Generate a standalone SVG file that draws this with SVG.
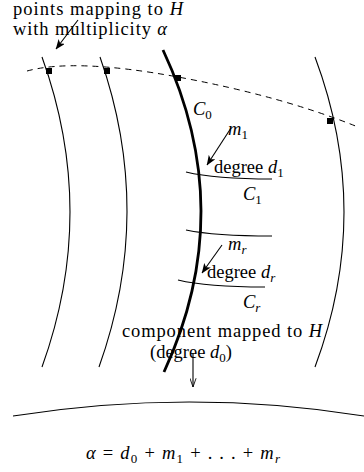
<svg xmlns="http://www.w3.org/2000/svg" width="364" height="472" viewBox="0 0 364 472">
<style>
.thin{fill:none;stroke:#000;stroke-width:1.1}
.thick{fill:none;stroke:#000;stroke-width:2.8}
.dash{fill:none;stroke:#000;stroke-width:1;stroke-dasharray:6 5}
.t{font-family:"Liberation Serif","DejaVu Serif","Times New Roman",serif;font-size:18.5px;fill:#000}
.i{font-style:italic}
.s{font-size:13px}
.sq{fill:#000}
.arr{fill:none;stroke:#000;stroke-width:1.1}
</style>
<defs>
<marker id="ah" viewBox="0 0 10 8" refX="9.5" refY="4" markerWidth="10" markerHeight="8" orient="auto" markerUnits="userSpaceOnUse"><path d="M0,0 L10,4 L0,8 L2.5,4 z" fill="#000"/></marker>
<marker id="av" viewBox="0 0 10 8" refX="10" refY="4" markerWidth="10" markerHeight="7" orient="auto" markerUnits="userSpaceOnUse"><path d="M0,0.5 L10,4 L0,7.5" fill="none" stroke="#000" stroke-width="1"/></marker>
</defs>
<rect width="364" height="472" fill="#fff"/>
<g id="curve-left1"><path class="thin" d="M42,57 Q98,212 42,367"/></g>
<g id="curve-left2"><path class="thin" d="M100,57 Q154.5,212 99,367"/></g>
<g id="curve-C0"><path class="thick" d="M163,50 Q238.5,211 164,372"/></g>
<g id="curve-right"><path class="thin" d="M315,57 Q373,212 315,367"/></g>
<g id="curve-C1"><path class="thin" d="M186,172 Q215,179 272,179"/></g>
<g id="curve-mid"><path class="thin" d="M186,230 Q215,236 272,236"/></g>
<g id="curve-Cr"><path class="thin" d="M178,280 Q207,287 265,287"/></g>
<g id="curve-H"><path class="thin" d="M13,416 Q190,388 364,416"/></g>
<g id="preimage-H"><path class="dash" d="M27,71 Q75,58 178,77 T358,127"/>
<rect class="sq" x="46" y="68" width="6" height="6"/>
<rect class="sq" x="104" y="68" width="6" height="6"/>
<rect class="sq" x="175" y="75" width="6" height="6"/>
<rect class="sq" x="327" y="118" width="6" height="6"/>
</g>
<g id="label-points"><text class="t" x="13" y="15" textLength="170">points mapping to <tspan class="i">H</tspan></text>
<text class="t" x="13" y="35" textLength="154">with multiplicity <tspan class="i">α</tspan></text></g>
<g id="label-C0"><text class="t" x="193" y="115"><tspan class="i">C</tspan><tspan class="s" dy="4">0</tspan></text></g>
<g id="label-m1"><text class="t" x="228" y="135"><tspan class="i">m</tspan><tspan class="s" dy="4">1</tspan></text></g>
<g id="label-d1"><text class="t" x="214" y="173">degree <tspan class="i">d</tspan><tspan class="s" dy="4">1</tspan></text></g>
<g id="label-C1"><text class="t" x="243" y="200"><tspan class="i">C</tspan><tspan class="s" dy="4">1</tspan></text></g>
<g id="label-mr"><text class="t" x="228" y="250"><tspan class="i">m</tspan><tspan class="s i" dy="4">r</tspan></text></g>
<g id="label-dr"><text class="t" x="207" y="278">degree <tspan class="i">d</tspan><tspan class="s i" dy="4">r</tspan></text></g>
<g id="label-Cr"><text class="t" x="243" y="308"><tspan class="i">C</tspan><tspan class="s i" dy="4">r</tspan></text></g>
<g id="label-component"><text class="t" x="122" y="337" textLength="200">component mapped to <tspan class="i">H</tspan></text>
<text class="t" x="150" y="358">(degree <tspan class="i">d</tspan><tspan class="s" dy="4">0</tspan><tspan dy="-4">)</tspan></text></g>
<g id="label-alpha"><text class="t" x="86" y="459" textLength="194"><tspan class="i">α</tspan> = <tspan class="i">d</tspan><tspan class="s" dy="4">0</tspan><tspan dy="-4"> + </tspan><tspan class="i">m</tspan><tspan class="s" dy="4">1</tspan><tspan dy="-4"> + . . . + </tspan><tspan class="i">m</tspan><tspan class="s i" dy="4">r</tspan></text></g>
<g id="connectors">
<path class="arr" d="M78,20 L56,49" marker-end="url(#ah)"/>
<path class="arr" d="M231,128 L207,165" marker-end="url(#ah)"/>
<path class="arr" d="M222,245 L202,273" marker-end="url(#ah)"/>
<path class="arr" d="M193,353 L193,387" marker-end="url(#av)"/>
</g>
</svg>
